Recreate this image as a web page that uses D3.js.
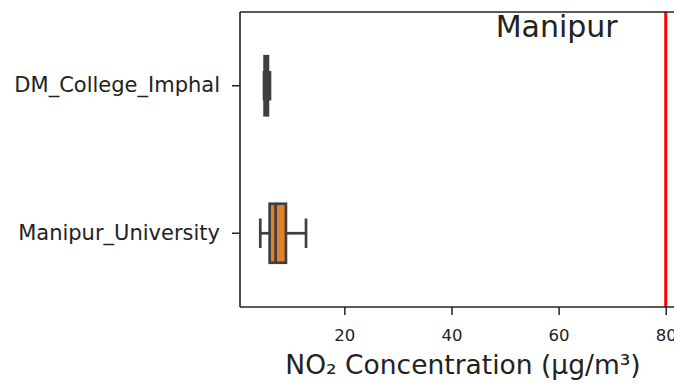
<!DOCTYPE html>
<html>
<head>
<meta charset="utf-8">
<script src="https://cdn.jsdelivr.net/npm/d3@7"></script>
<style>
  html, body { margin: 0; padding: 0; background: #fff; }
  svg { display: block; }
  text { font-family: "DejaVu Sans", sans-serif; }
</style>
</head>
<body>
<svg id="chart" width="674" height="383"></svg>
<script>
// ---- data ----
const categories = ["DM_College_Imphal", "Manipur_University"];
const whiskerLow = [5.0, 4.3];
const q1 = [5.11, 6.05];
const median = [5.4, 7.17];
const q3 = [5.73, 9.09];
const whiskerHigh = [6.11, 12.84];
const boxColors = ["#3274a1", "#e1812c"];
const xTicks = [20, 40, 60, 80];
const limitValue = 80;
const regionTitle = "Manipur";
const xLabel = "NO\u2082 Concentration (\u00b5g/m\u00b3)";

// ---- layout ----
const plot = { left: 240, top: 12, right: 686, bottom: 307 };
const edge = "#3f3f3f";
const lw = 2.7;

const svg = d3.select("#chart");

const lo = d3.min(whiskerLow);
const hi = Math.max(d3.max(whiskerHigh), limitValue);
const pad = 0.05 * (hi - lo);
const x = d3.scaleLinear().domain([lo - pad, hi + pad]).range([plot.left, plot.right]);
const y = d3.scaleBand().domain(categories).range([plot.top, plot.bottom]).padding(0);

const boxH = y.bandwidth() * 0.4;
const capH = boxH / 2;

const rows = categories.map((c, i) => ({
  c, lo: whiskerLow[i], q1: q1[i], med: median[i], q3: q3[i], hi: whiskerHigh[i], color: boxColors[i]
}));

const g = svg.append("g");
const box = g.selectAll("g.box").data(rows).join("g").attr("class", "box")
  .attr("transform", d => `translate(0,${y(d.c) + y.bandwidth() / 2})`);

// whiskers
box.append("line").attr("x1", d => x(d.lo)).attr("x2", d => x(d.q1)).attr("y1", 0).attr("y2", 0)
  .attr("stroke", edge).attr("stroke-width", lw);
box.append("line").attr("x1", d => x(d.q3)).attr("x2", d => x(d.hi)).attr("y1", 0).attr("y2", 0)
  .attr("stroke", edge).attr("stroke-width", lw);
// caps
box.append("line").attr("x1", d => x(d.lo)).attr("x2", d => x(d.lo)).attr("y1", -capH / 2).attr("y2", capH / 2)
  .attr("stroke", edge).attr("stroke-width", lw);
box.append("line").attr("x1", d => x(d.hi)).attr("x2", d => x(d.hi)).attr("y1", -capH / 2).attr("y2", capH / 2)
  .attr("stroke", edge).attr("stroke-width", lw);
// box
box.append("rect").attr("x", d => x(d.q1)).attr("width", d => x(d.q3) - x(d.q1))
  .attr("y", -boxH / 2).attr("height", boxH)
  .attr("fill", d => d.color).attr("stroke", edge).attr("stroke-width", lw);
// median
box.append("line").attr("x1", d => x(d.med)).attr("x2", d => x(d.med)).attr("y1", -boxH / 2).attr("y2", boxH / 2)
  .attr("stroke", edge).attr("stroke-width", lw);

// reference line
g.append("line").attr("x1", x(limitValue)).attr("x2", x(limitValue))
  .attr("y1", plot.top).attr("y2", plot.bottom)
  .attr("stroke", "#ff0000").attr("stroke-width", 3);

// axes
const xAxis = d3.axisBottom(x).tickValues(xTicks).tickFormat(d3.format("d")).tickSize(8).tickPadding(14);
const xg = svg.append("g").attr("transform", `translate(0,${plot.bottom})`).call(xAxis);
xg.select(".domain").remove();
xg.selectAll("line").attr("stroke", "#222").attr("stroke-width", 1.5);
xg.selectAll("text").attr("font-size", 16.5).attr("fill", "#222").attr("font-family", "DejaVu Sans, sans-serif");

const yAxis = d3.axisLeft(y).tickSize(8).tickPadding(12);
const yg = svg.append("g").attr("transform", `translate(${plot.left},0)`).call(yAxis);
yg.select(".domain").remove();
yg.selectAll("line").attr("stroke", "#222").attr("stroke-width", 1.5);
yg.selectAll("text").attr("font-size", 21).attr("fill", "#222").attr("font-family", "DejaVu Sans, sans-serif");

// spines
const spines = svg.append("g").attr("stroke", "#222").attr("stroke-width", 1.6).attr("fill", "none");
spines.append("line").attr("x1", plot.left).attr("x2", plot.left).attr("y1", plot.top).attr("y2", plot.bottom);
spines.append("line").attr("x1", plot.left).attr("x2", plot.right).attr("y1", plot.top).attr("y2", plot.top);
spines.append("line").attr("x1", plot.left).attr("x2", plot.right).attr("y1", plot.bottom).attr("y2", plot.bottom);
spines.append("line").attr("x1", plot.right).attr("x2", plot.right).attr("y1", plot.top).attr("y2", plot.bottom);

// title inside axes
svg.append("text").attr("x", 556.7).attr("y", 37).attr("text-anchor", "middle")
  .attr("font-size", 30).attr("fill", "#222").text(regionTitle);

// x label
svg.append("text").attr("x", (plot.left + plot.right) / 2).attr("y", 373.5).attr("text-anchor", "middle")
  .attr("font-size", 26.5).attr("fill", "#222").text(xLabel);
</script>
</body>
</html>
